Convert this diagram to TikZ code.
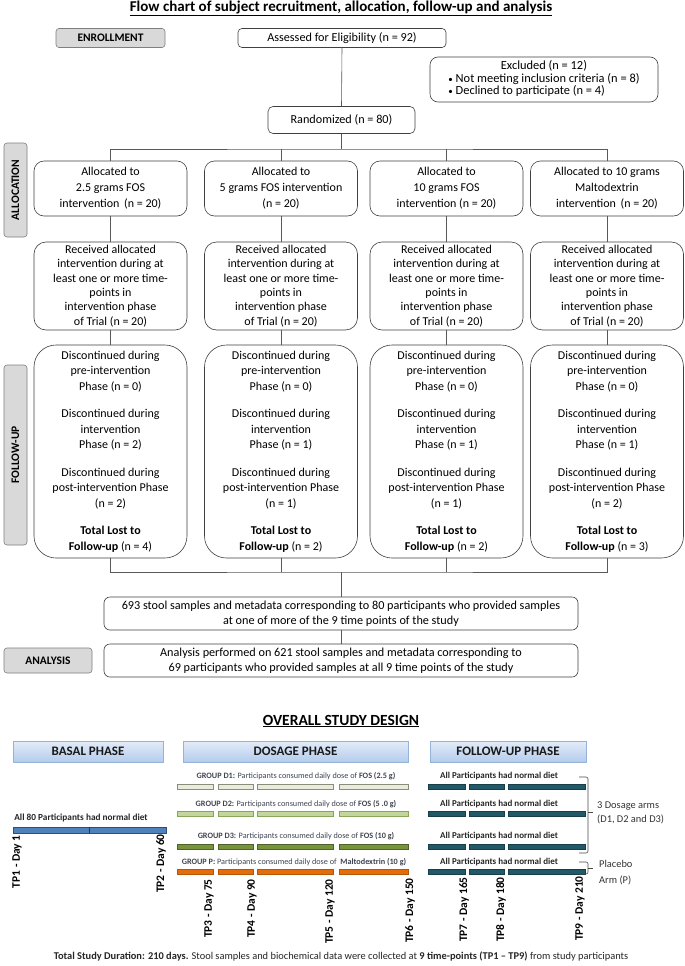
\documentclass[tikz,border=0pt]{standalone}
\usepackage{fontspec}
\setmainfont{Carlito}
\usetikzlibrary{shadows}
\definecolor{boxline}{HTML}{404040}
\definecolor{sidefill}{HTML}{D9D9D9}
\definecolor{sideline}{HTML}{7F7F7F}
\definecolor{phtop}{HTML}{E3ECF8}
\definecolor{phbot}{HTML}{B4CCEC}
\definecolor{phline}{HTML}{95B3D7}
\definecolor{dOnefill}{HTML}{E9ECDC}
\definecolor{dOneline}{HTML}{8C8C7A}
\definecolor{dTwofill}{HTML}{C3D69B}
\definecolor{dTwoline}{HTML}{8AA55A}
\definecolor{dThreefill}{HTML}{77933C}
\definecolor{dThreeline}{HTML}{4F6228}
\definecolor{pfill}{HTML}{E46C0A}
\definecolor{pline}{HTML}{B65708}
\definecolor{basfill}{HTML}{4F81BD}
\definecolor{basline}{HTML}{2F4F78}
\definecolor{fufill}{HTML}{215968}
\definecolor{fuline}{HTML}{163F4A}
\definecolor{txtgrey}{HTML}{3F4550}
\begin{document}
\begin{tikzpicture}[x=1pt,y=-1pt,
  fbox/.style={draw=boxline, line width=0.6pt, fill=white, rounded corners=#1, align=center, inner sep=0pt},
  sidebox/.style={draw=sideline, line width=0.6pt, fill=sidefill, rounded corners=3pt, inner sep=0pt, font=\fontsize{11.5}{13}\selectfont\bfseries},
  conn/.style={draw=black!65, line width=0.6pt},
  phase/.style={draw=phline, line width=0.6pt, top color=phtop, bottom color=phbot, inner sep=0pt, minimum height=21pt, font=\fontsize{13}{14}\selectfont\bfseries, text=black!90, drop shadow={opacity=0.18, shadow xshift=1pt, shadow yshift=-1.2pt}},
  grptext/.style={font=\fontsize{8.2}{9}\selectfont, text=txtgrey, inner sep=0pt},
  fuText/.style={font=\fontsize{9}{10}\selectfont\bfseries, text=black!85, inner sep=0pt},
  tplabel/.style={rotate=90, anchor=east, font=\fontsize{11.5}{12}\selectfont\bfseries, inner sep=0pt},
  barD1/.style={draw=dOneline, fill=dOnefill, line width=0.5pt},
  barD2/.style={draw=dTwoline, fill=dTwofill, line width=0.5pt},
  barD3/.style={draw=dThreeline, fill=dThreefill, line width=0.5pt},
  barP/.style={draw=pline, fill=pfill, line width=0.5pt},
  barB/.style={draw=basline, fill=basfill, line width=0.5pt},
  barF/.style={draw=fuline, fill=fufill, line width=0.5pt},
  brace/.style={draw=black!70, line width=0.6pt, rounded corners=2pt}
]
\useasboundingbox[fill=white] (0,0) rectangle (685,966);

% ---------- Title ----------
\node[font=\fontsize{15}{16}\selectfont\bfseries] (title) at (341,8) {\underline{Flow chart of subject recruitment, allocation, follow-up and analysis}};

% ---------- Enrollment ----------
\node[sidebox, minimum width=109pt, minimum height=19pt] (lenr) at (110.5,38) {ENROLLMENT};
\node[fbox=4pt, minimum width=208pt, minimum height=19pt, font=\fontsize{12.2}{13}\selectfont] (assess) at (342,38) {Assessed for Eligibility (n = 92)};
\node[fbox=8pt, minimum width=228pt, minimum height=45pt, font=\fontsize{12.4}{14}\selectfont] (excl) at (544,79.5)
  {\begin{tabular}{@{}l@{}}\multicolumn{1}{@{}c@{}}{Excluded (n = 12)}\\[-1.5pt]
   {\small\textbullet}\ Not meeting inclusion criteria (n = 8)\\[-1.5pt]
   {\small\textbullet}\ Declined to participate (n = 4)\end{tabular}};
\node[fbox=5pt, minimum width=147pt, minimum height=27pt, font=\fontsize{12.2}{13}\selectfont] (rand) at (341.5,120) {Randomized (n = 80)};
\draw[conn] (assess.south) -- (rand.north);

% ---------- Allocation ----------
\node[sidebox, rotate=90, minimum width=94pt, minimum height=23pt] (lalloc) at (15.5,190) {ALLOCATION};
\tikzset{alloc/.style={fbox=10pt, minimum width=153pt, minimum height=55pt, font=\fontsize{12}{16}\selectfont}}
\node[alloc] (a1) at (110.5,188.5) {Allocated to\\2.5 grams FOS\\intervention\, (n = 20)};
\node[alloc] (a2) at (281,188.5) {Allocated to\\5 grams FOS intervention\\(n = 20)};
\node[alloc] (a3) at (446.5,188.5) {Allocated to\\10 grams FOS\\intervention (n = 20)};
\node[alloc] (a4) at (607,188.5) {Allocated to 10 grams\\Maltodextrin\\intervention\, (n = 20)};
\coordinate (br) at (341.5,149);
\draw[conn] (rand.south) -- (br);
\draw[conn] (a1.north) |- (br) -| (a4.north);
\draw[conn] (a2.north) -- (a2.north |- br);
\draw[conn] (a3.north) -- (a3.north |- br);

% ---------- Received ----------
\tikzset{recv/.style={fbox=12pt, minimum width=153pt, minimum height=88pt, font=\fontsize{12}{14.4}\selectfont}}
\foreach \i/\x in {1/110.5,2/281,3/446.5,4/607}{
  \node[recv] (r\i) at (\x,286) {Received allocated\\intervention during at\\least one or more time-\\points in\\intervention phase\\of Trial (n = 20)};
  \draw[conn] (a\i.south) -- (r\i.north);
}

% ---------- Follow-up ----------
\node[sidebox, rotate=90, minimum width=180pt, minimum height=23pt] (lfu) at (15.5,455) {FOLLOW-UP};
\tikzset{fup/.style={fbox=22pt, minimum width=153pt, minimum height=213pt, font=\fontsize{12}{15.5}\selectfont}}
\node[fup] (f1) at (110.5,451.5) {Discontinued during\\pre-intervention\\Phase (n = 0)\\[12pt]Discontinued during\\intervention\\Phase (n = 2)\\[12pt]Discontinued during\\post-intervention Phase\\(n = 2)\\[12pt]\textbf{Total Lost to}\\\textbf{Follow-up} (n = 4)};
\node[fup] (f2) at (281,451.5) {Discontinued during\\pre-intervention\\Phase (n = 0)\\[12pt]Discontinued during\\intervention\\Phase (n = 1)\\[12pt]Discontinued during\\post-intervention Phase\\(n = 1)\\[12pt]\textbf{Total Lost to}\\\textbf{Follow-up} (n = 2)};
\node[fup] (f3) at (446.5,451.5) {Discontinued during\\pre-intervention\\Phase (n = 0)\\[12pt]Discontinued during\\intervention\\Phase (n = 1)\\[12pt]Discontinued during\\post-intervention Phase\\(n = 1)\\[12pt]\textbf{Total Lost to}\\\textbf{Follow-up} (n = 2)};
\node[fup] (f4) at (607,451.5) {Discontinued during\\pre-intervention\\Phase (n = 0)\\[12pt]Discontinued during\\intervention\\Phase (n = 1)\\[12pt]Discontinued during\\post-intervention Phase\\(n = 2)\\[12pt]\textbf{Total Lost to}\\\textbf{Follow-up} (n = 3)};
\foreach \i in {1,2,3,4}{\draw[conn] (r\i.south) -- (f\i.north);}

% ---------- Analysis ----------
\node[fbox=6pt, minimum width=474pt, minimum height=33pt, font=\fontsize{12.2}{15}\selectfont] (s693) at (341,613.5)
  {693 stool samples and metadata corresponding to 80 participants who provided samples\\at one of more of the 9 time points of the study};
\node[fbox=6pt, minimum width=474pt, minimum height=33pt, font=\fontsize{12.2}{15}\selectfont] (anl) at (341,660.5)
  {Analysis performed on 621 stool samples and metadata corresponding to\\69 participants who provided samples at all 9 time points of the study};
\node[sidebox, minimum width=88pt, minimum height=25pt] (lanl) at (48,660.5) {ANALYSIS};
\coordinate (jn) at (341,572);
\draw[conn] (f1.south) |- (jn) -| (f4.south);
\draw[conn] (f2.south) -- (f2.south |- jn);
\draw[conn] (f3.south) -- (f3.south |- jn);
\draw[conn] (jn) -- (s693.north);
\draw[conn] (s693.south) -- (anl.north);

% ---------- Overall study design ----------
\node[font=\fontsize{15.5}{16}\selectfont\bfseries] (title2) at (341,721) {\underline{OVERALL STUDY DESIGN}};
\node[phase, minimum width=150pt] (pbas) at (88,751.5) {BASAL PHASE};
\node[phase, minimum width=225pt] (pdos) at (295.5,751.5) {DOSAGE PHASE};
\node[phase, minimum width=156pt] (pfu) at (508,751.5) {FOLLOW-UP PHASE};

% group texts
\node[grptext] (gd1) at (296,776) {\textbf{GROUP D1:} Participants consumed daily dose of \textbf{FOS (2.5 g)}};
\node[grptext] (gd2) at (296,804) {\textbf{GROUP D2:} Participants consumed daily dose of \textbf{FOS (5 .0 g)}};
\node[grptext] (gd3) at (296,836) {\textbf{GROUP D3:} Participants consumed daily dose of \textbf{FOS (10 g)}};
\node[grptext] (gp) at (294,862) {\textbf{GROUP P:} Participants consumed daily dose of\ \ \textbf{Maltodextrin (10 g)}};
\foreach \y/\n in {776/1,804/2,836/3,862/4}{
  \node[fuText] (fut\n) at (499,\y) {All Participants had normal diet};
}
\node[font=\fontsize{9.3}{10}\selectfont\bfseries, text=black!85, inner sep=0pt] (all80) at (81,818) {All 80 Participants had normal diet};

% bars
\foreach \ya/\yb/\st in {784/789/barD1, 811/816/barD2, 844/849/barD3, 869/874/barP}{
  \path[\st] (177,\ya) rectangle (213,\yb);
  \path[\st] (218,\ya) rectangle (253,\yb);
  \path[\st] (257,\ya) rectangle (333,\yb);
  \path[\st] (339,\ya) rectangle (408,\yb);
  \path[barF] (428,\ya) rectangle (465,\yb);
  \path[barF] (469,\ya) rectangle (504,\yb);
  \path[barF] (508,\ya) rectangle (585,\yb);
}
\path[barB] (13,827) rectangle (166,833);
\draw[basline!70!black, line width=0.6pt] (89,827) -- (89,833);

% timepoint labels
\node[tplabel] (tp1) at (17,835) {TP1 - Day 1};
\node[tplabel] (tp2) at (161,834) {TP2 - Day 60};
\node[tplabel] (tp3) at (209,879) {TP3 - Day 75};
\node[tplabel] (tp4) at (252,879) {TP4 - Day 90};
\node[tplabel] (tp5) at (330,879) {TP5 - Day 120};
\node[tplabel] (tp6) at (410,878) {TP6 - Day 150};
\node[tplabel] (tp7) at (464,877) {TP7 - Day 165};
\node[tplabel] (tp8) at (501,877) {TP8 - Day 180};
\node[tplabel] (tp9) at (580,876) {TP9 - Day 210};

% braces
\draw[brace] (579,777) -- (588,777) -- (588,853) -- (579,853);
\draw[brace] (588,812) -- (593,812);
\node[font=\fontsize{10.4}{14}\selectfont, text=black!80, align=left, anchor=west, inner sep=0pt] (arms) at (597,813) {3 Dosage arms\\(D1, D2 and D3)};
\draw[brace] (579,862) -- (588,862) -- (588,874) -- (579,874);
\draw[brace] (588,868) -- (593,868);
\node[font=\fontsize{10.4}{16}\selectfont, text=black!80, align=left, anchor=west, inner sep=0pt] (plac) at (599,873) {Placebo\\Arm (P)};

% bottom note
\node[font=\fontsize{10.4}{12}\selectfont, text=black!85, inner sep=0pt] (note) at (341,956) {\textbf{Total Study Duration: 210 days.} Stool samples and biochemical data were collected at \textbf{9 time-points (TP1 -- TP9)} from study participants};
\end{tikzpicture}
\end{document}
